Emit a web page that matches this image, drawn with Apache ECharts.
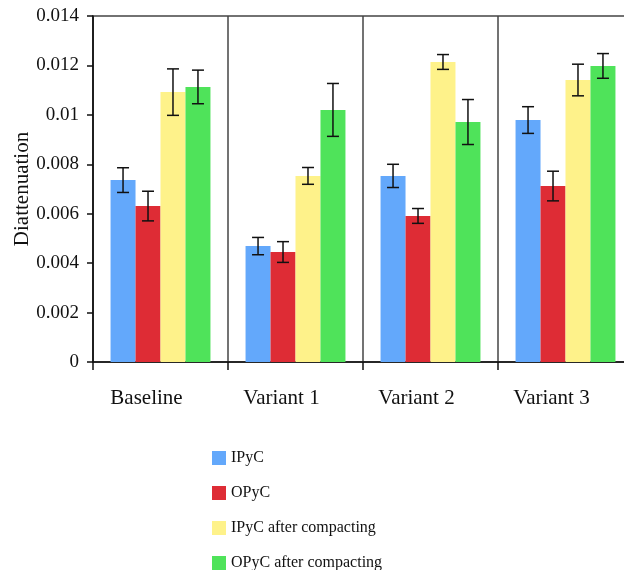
<!DOCTYPE html>
<html>
<head>
<meta charset="utf-8">
<script src="https://cdn.jsdelivr.net/npm/echarts@6/dist/echarts.min.js"></script>
<style>
  html, body { margin: 0; padding: 0; background: #fff; }
  #chart { width: 624px; height: 570px; }
</style>
</head>
<body>
<div id="chart"></div>
<script>
// categories and series
var categories = ["Baseline", "Variant 1", "Variant 2", "Variant 3"];
var seriesNames = ["IPyC", "OPyC", "IPyC after compacting", "OPyC after compacting"];
var ipyc = [0.00736, 0.00469, 0.00753, 0.00979];
var opyc = [0.00631, 0.00445, 0.00591, 0.00712];
var ipycAfter = [0.01092, 0.00753, 0.01214, 0.01141];
var opycAfter = [0.01113, 0.0102, 0.00971, 0.01198];
// half-length of the error bars
var ipycErr = [0.0005, 0.00035, 0.00047, 0.00054];
var opycErr = [0.0006, 0.00042, 0.0003, 0.0006];
var ipycAfterErr = [0.00094, 0.00034, 0.0003, 0.00064];
var opycAfterErr = [0.00068, 0.00107, 0.00091, 0.0005];

var colors = ["#63a8fb", "#de2c35", "#fef28a", "#4fe35a"];
var font = "'Liberation Serif', 'Times New Roman', serif";
var gapPct = 0.26;

var allVals = [ipyc, opyc, ipycAfter, opycAfter];
var allErr = [ipycErr, opycErr, ipycAfterErr, opycAfterErr];

// error bar data: [category, series, low, high]
var errData = [];
for (var s = 0; s < 4; s++) {
  for (var i = 0; i < categories.length; i++) {
    errData.push([i, s, allVals[s][i] - allErr[s][i], allVals[s][i] + allErr[s][i]]);
  }
}

var series = [];
for (var k = 0; k < 4; k++) {
  series.push({
    name: seriesNames[k],
    type: "bar",
    data: allVals[k],
    barGap: "0%",
    barCategoryGap: gapPct * 100 + "%",
    itemStyle: { color: colors[k] }
  });
}
series.push({
  type: "custom",
  name: "err",
  data: errData,
  encode: { x: 0, y: [2, 3] },
  z: 10,
  renderItem: function (params, api) {
    var cat = api.value(0);
    var s = api.value(1);
    var bw = api.size([1, 0])[0] * (1 - gapPct) / 4;
    var lo = api.coord([cat, api.value(2)]);
    var hi = api.coord([cat, api.value(3)]);
    var x = lo[0] + (s - 1.5) * bw;
    var cap = 6;
    var st = { stroke: "#111", lineWidth: 1.5 };
    return {
      type: "group",
      children: [
        { type: "line", shape: { x1: x, y1: lo[1], x2: x, y2: hi[1] }, style: st },
        { type: "line", shape: { x1: x - cap, y1: lo[1], x2: x + cap, y2: lo[1] }, style: st },
        { type: "line", shape: { x1: x - cap, y1: hi[1], x2: x + cap, y2: hi[1] }, style: st }
      ]
    };
  }
});

var option = {
  animation: false,
  textStyle: { fontFamily: font },
  grid: {
    left: 93,
    top: 16,
    width: 540,
    height: 346,
    outerBoundsMode: "none",
    show: true,
    borderColor: "#444",
    borderWidth: 1.5
  },
  legend: {
    data: seriesNames,
    orient: "vertical",
    left: 207,
    top: 445,
    height: 200,
    icon: "rect",
    itemWidth: 14,
    itemHeight: 14,
    itemGap: 19,
    textStyle: { fontFamily: font, fontSize: 16, color: "#111" }
  },
  xAxis: {
    type: "category",
    data: categories,
    axisLine: { lineStyle: { color: "#111", width: 1.5 } },
    axisTick: { show: true, length: 8, lineStyle: { color: "#111", width: 1.5 } },
    // labels sit a little left of the group centres in the original
    axisLabel: { fontFamily: font, fontSize: 21, color: "#111", margin: 26, padding: [0, 28, 0, 0] },
    splitLine: { show: true, lineStyle: { color: "#444", width: 1.5 } }
  },
  yAxis: {
    type: "value",
    min: 0,
    max: 0.014,
    interval: 0.002,
    name: "Diattenuation",
    nameLocation: "middle",
    nameGap: 60,
    nameMoveOverlap: false,
    nameTextStyle: { fontFamily: font, fontSize: 21, color: "#111" },
    axisLine: { show: true, lineStyle: { color: "#111", width: 1.5 } },
    axisTick: { show: true, length: 6, lineStyle: { color: "#111", width: 1.5 } },
    axisLabel: { fontFamily: font, fontSize: 19, color: "#111", margin: 14 },
    splitLine: { show: false }
  },
  series: series
};

var chart = echarts.init(document.getElementById("chart"));
chart.setOption(option);
</script>
</body>
</html>
